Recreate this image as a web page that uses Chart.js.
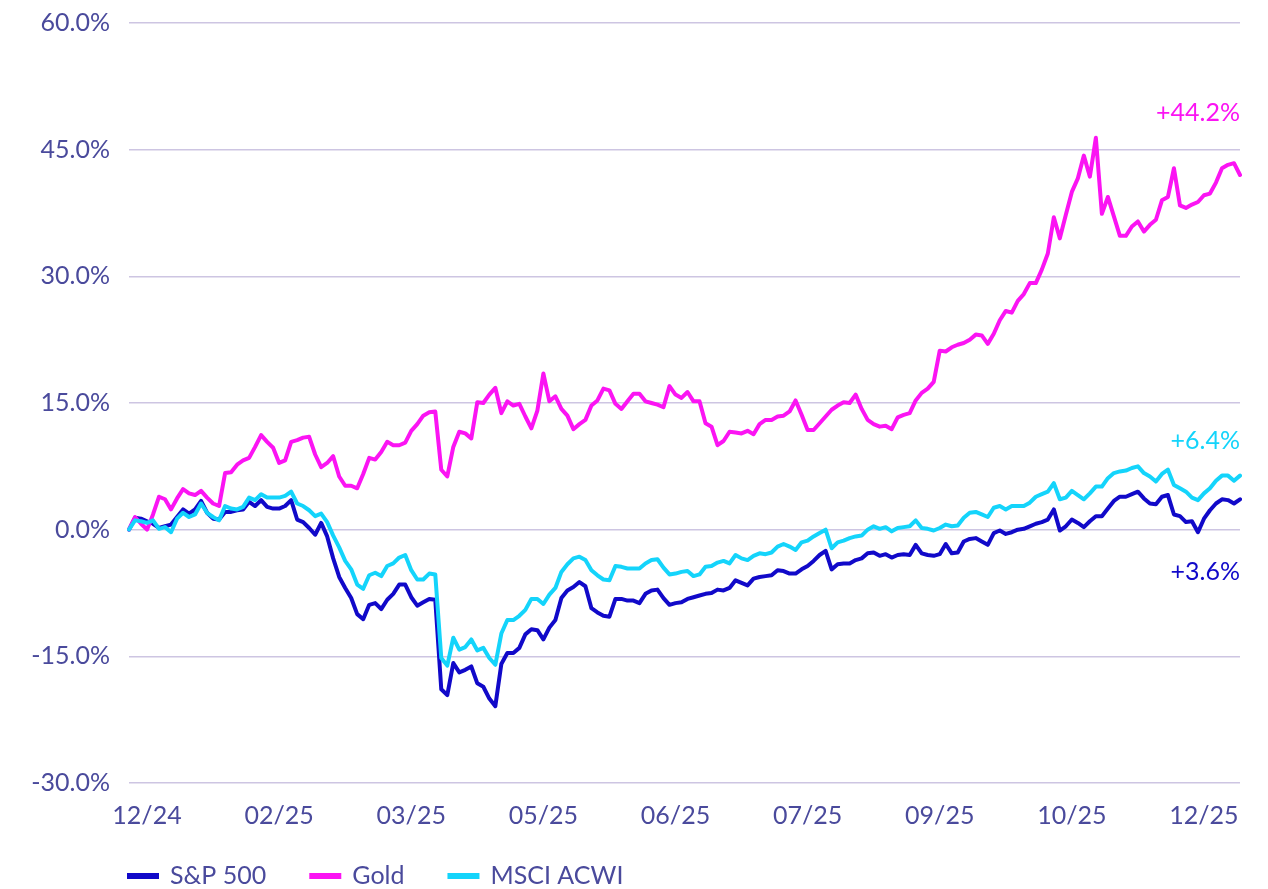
<!DOCTYPE html>
<html>
<head>
<meta charset="utf-8">
<script src="https://cdn.jsdelivr.net/npm/chart.js@4.4.1/dist/chart.umd.min.js"></script>
<style>
  html, body { margin: 0; padding: 0; background: #ffffff; }
</style>
</head>
<body>
<canvas id="lineChart" width="1268" height="889"></canvas>
<script>
// x axis: one point per ~trading-day step, only some carry a month label
var tickLabels = ["12/24", "02/25", "03/25", "05/25", "06/25", "07/25", "09/25", "10/25", "12/25"];
var tickIndex = [3, 25, 47, 69, 91, 113, 135, 157, 179];

// cumulative returns in %
var sp500 = [
  0, 1.4, 1.3, 1.0, 0.7, 0.2, 0.4, 0.6, 1.5, 2.4,
  1.9, 2.4, 3.4, 2.0, 1.3, 1.2, 2.1, 2.1, 2.3, 2.4,
  3.3, 2.8, 3.5, 2.7, 2.5, 2.5, 2.8, 3.5, 1.2, 0.9,
  0.2, -0.6, 0.8, -0.8, -3.4, -5.6, -6.9, -8.1, -10.0, -10.6,
  -8.9, -8.7, -9.4, -8.3, -7.6, -6.5, -6.5, -8.0, -9.0, -8.6,
  -8.2, -8.3, -18.9, -19.6, -15.8, -16.9, -16.6, -16.2, -18.2, -18.6,
  -20.0, -20.9, -15.9, -14.6, -14.6, -14.0, -12.4, -11.8, -11.9, -13.0,
  -11.6, -10.7, -8.1, -7.2, -6.8, -6.2, -6.7, -9.3, -9.8, -10.2,
  -10.3, -8.2, -8.2, -8.4, -8.4, -8.7, -7.6, -7.2, -7.1, -8.1,
  -8.9, -8.7, -8.6, -8.2, -8.0, -7.8, -7.6, -7.5, -7.1, -7.2,
  -6.9, -6.0, -6.3, -6.6, -5.8, -5.6, -5.5, -5.4, -4.8, -4.9,
  -5.2, -5.2, -4.7, -4.3, -3.7, -3.0, -2.5, -4.7, -4.1, -4.0,
  -4.0, -3.6, -3.4, -2.8, -2.7, -3.1, -2.9, -3.3, -3.0, -2.9,
  -3.0, -1.8, -2.8, -3.0, -3.1, -2.9, -1.7, -2.8, -2.7, -1.4,
  -1.1, -1.0, -1.4, -1.8, -0.4, -0.1, -0.5, -0.3, 0.0, 0.1,
  0.4, 0.7, 0.9, 1.2, 2.4, -0.1, 0.4, 1.2, 0.8, 0.3,
  1.0, 1.6, 1.6, 2.5, 3.4, 3.9, 3.9, 4.2, 4.5, 3.7,
  3.1, 3.0, 3.9, 4.1, 1.8, 1.6, 0.9, 1.0, -0.3, 1.3,
  2.3, 3.1, 3.6, 3.5, 3.1, 3.6
];
var gold = [
  0, 1.5, 0.7, 0, 1.8, 3.9, 3.6, 2.4, 3.7, 4.8,
  4.3, 4.1, 4.6, 3.8, 3.1, 2.8, 6.7, 6.8, 7.7, 8.2,
  8.5, 9.8, 11.2, 10.4, 9.7, 7.9, 8.2, 10.4, 10.6, 10.9,
  11.0, 8.9, 7.4, 7.9, 8.7, 6.3, 5.2, 5.2, 4.9, 6.6,
  8.5, 8.3, 9.2, 10.4, 10.0, 10.0, 10.3, 11.7, 12.5, 13.5,
  13.9, 14.0, 7.1, 6.3, 9.8, 11.6, 11.4, 10.8, 15.1, 15.0,
  16.0, 16.8, 13.8, 15.2, 14.7, 14.9, 13.4, 12.0, 14.1, 18.5,
  15.2, 15.8, 14.3, 13.5, 11.9, 12.5, 13.0, 14.7, 15.3, 16.7,
  16.5, 14.9, 14.3, 15.2, 16.1, 16.1, 15.2, 15.0, 14.8, 14.5,
  17.0, 16.0, 15.6, 16.3, 15.2, 15.2, 12.6, 12.2, 10.0, 10.5,
  11.6, 11.5, 11.4, 11.7, 11.3, 12.5, 13.0, 13.0, 13.4, 13.5,
  14.0, 15.3, 13.6, 11.8, 11.8, 12.6, 13.4, 14.2, 14.7, 15.1,
  15.0, 16.0, 14.3, 13.0, 12.5, 12.2, 12.3, 11.9, 13.3, 13.6,
  13.8, 15.3, 16.2, 16.7, 17.5, 21.2, 21.1, 21.6, 21.9, 22.1,
  22.5, 23.1, 23.0, 22.0, 23.2, 24.8, 25.9, 25.7, 27.1, 27.9,
  29.2, 29.2, 30.8, 32.7, 37.0, 34.5, 37.3, 40.0, 41.6, 44.3,
  41.8, 46.4, 37.4, 39.4, 37.1, 34.8, 34.8, 35.9, 36.5, 35.3,
  36.1, 36.7, 39.0, 39.4, 42.8, 38.4, 38.1, 38.5, 38.8, 39.6,
  39.8, 41.1, 42.8, 43.2, 43.4, 42.0
];
var msciAcwi = [
  0, 1.1, 1.0, 0.8, 1.1, 0.1, 0.3, -0.3, 1.3, 2.0,
  1.5, 1.8, 3.1, 2.0, 1.5, 1.1, 2.8, 2.5, 2.4, 2.7,
  3.8, 3.5, 4.2, 3.8, 3.8, 3.8, 4.0, 4.5, 3.1, 2.8,
  2.3, 1.6, 1.9, 0.9, -0.7, -2.1, -3.7, -4.7, -6.5, -7.0,
  -5.4, -5.1, -5.5, -4.3, -4.0, -3.3, -3.0, -4.8, -5.9, -5.9,
  -5.2, -5.3, -15.2, -16.1, -12.8, -14.2, -13.9, -13.0, -14.3, -14.0,
  -15.2, -16.0, -12.3, -10.7, -10.7, -10.2, -9.5, -8.2, -8.2, -8.8,
  -7.7, -6.9, -5.0, -4.1, -3.4, -3.2, -3.6, -4.8, -5.4, -5.9,
  -6.0, -4.3, -4.4, -4.6, -4.6, -4.6, -4.0, -3.6, -3.5, -4.5,
  -5.3, -5.2, -5.0, -4.9, -5.5, -5.3, -4.4, -4.3, -3.9, -3.7,
  -4.0, -3.0, -3.4, -3.6, -3.1, -2.8, -2.9, -2.7, -2.0, -1.7,
  -2.0, -2.4, -1.5, -1.3, -0.8, -0.4, 0.0, -2.2, -1.5, -1.3,
  -1.0, -0.8, -0.7, 0.0, 0.4, 0.1, 0.3, -0.2, 0.2, 0.3,
  0.4, 1.1, 0.2, 0.1, -0.1, 0.2, 0.6, 0.4, 0.5, 1.4,
  2.0, 2.1, 1.8, 1.5, 2.6, 2.8, 2.4, 2.8, 2.8, 2.8,
  3.2, 3.9, 4.2, 4.5, 5.5, 3.6, 3.8, 4.6, 4.1, 3.6,
  4.3, 5.1, 5.1, 6.1, 6.7, 6.9, 7.0, 7.3, 7.5, 6.7,
  6.3, 5.7, 6.6, 7.1, 5.3, 4.9, 4.5, 3.8, 3.5, 4.3,
  4.9, 5.8, 6.4, 6.4, 5.8, 6.4
];

var seriesNames = ["S&P 500", "Gold", "MSCI ACWI"];
var endLabels = ["+3.6%", "+44.2%", "+6.4%"];

var spColor = "#1109c9";
var goldColor = "#fb14f3";
var acwiColor = "#14d4fb";
var textColor = "#4a4a9c";
var gridColor = "#cdc5e2";
var fontFamily = "Lato, 'Open Sans', sans-serif";

// build category labels: empty except where a month tick sits
var categories = [];
for (var i = 0; i < sp500.length; i++) {
    var k = tickIndex.indexOf(i);
    categories[i] = k >= 0 ? tickLabels[k] : "";
}

// where the end labels sit (in axis units)
var endLabelY = [-5.0, 49.4, 10.5];

// Draw the final-value labels on the right
var endLabelPlugin = {
    id: "endLabels",
    afterDatasetsDraw: function (chart) {
        var ctx = chart.ctx;
        var yScale = chart.scales.y;
        ctx.save();
        ctx.font = "25px " + fontFamily;
        ctx.textAlign = "right";
        ctx.textBaseline = "middle";
        chart.data.datasets.forEach(function (ds, i) {
            ctx.fillStyle = ds.borderColor;
            ctx.fillText(endLabels[i], chart.chartArea.right, yScale.getPixelForValue(endLabelY[i]));
        });
        ctx.restore();
    }
};

// Simple legend at the bottom, lined up with the plot's left edge
var bottomLegendPlugin = {
    id: "bottomLegend",
    afterDraw: function (chart) {
        var ctx = chart.ctx;
        var x = 127;
        var y = chart.height - 13;
        ctx.save();
        ctx.font = "25px " + fontFamily;
        ctx.textBaseline = "middle";
        ctx.textAlign = "left";
        chart.data.datasets.forEach(function (ds) {
            ctx.fillStyle = ds.borderColor;
            ctx.fillRect(x, y - 3, 32, 6);
            x += 32 + 11;
            ctx.fillStyle = textColor;
            ctx.fillText(ds.label, x, y);
            x += ctx.measureText(ds.label).width + 43;
        });
        ctx.restore();
    }
};

var ctx = document.getElementById("lineChart").getContext("2d");
var myChart = new Chart(ctx, {
    type: "line",
    data: {
        labels: categories,
        datasets: [{
            label: seriesNames[0],
            data: sp500,
            borderColor: spColor,
            order: 2
        }, {
            label: seriesNames[1],
            data: gold,
            borderColor: goldColor,
            order: 1
        }, {
            label: seriesNames[2],
            data: msciAcwi,
            borderColor: acwiColor,
            order: 0
        }]
    },
    options: {
        responsive: false,
        animation: false,
        layout: {
            padding: { top: 23, right: 28, bottom: 40, left: 3 }
        },
        elements: {
            line: { borderWidth: 4, tension: 0, borderJoinStyle: "round", borderCapStyle: "round" },
            point: { radius: 0, hoverRadius: 0 }
        },
        plugins: {
            legend: { display: false },
            tooltip: { enabled: false }
        },
        scales: {
            x: {
                grid: { display: false, drawTicks: false },
                border: { display: false },
                ticks: {
                    autoSkip: false,
                    maxRotation: 0,
                    minRotation: 0,
                    padding: 18,
                    color: textColor,
                    font: { family: fontFamily, size: 25 },
                    callback: function (value, index) {
                        return categories[index];
                    }
                },
                afterFit: function (scale) {
                    scale.paddingLeft = 0;
                    scale.paddingRight = 0;
                }
            },
            y: {
                min: -30,
                max: 60,
                grid: { color: gridColor, lineWidth: 1.5, drawTicks: false },
                border: { display: false },
                ticks: {
                    stepSize: 15,
                    padding: 19,
                    color: textColor,
                    font: { family: fontFamily, size: 25 },
                    callback: function (value) {
                        return value.toFixed(1) + "%";
                    }
                },
                afterFit: function (scale) {
                    scale.width = 126;
                    scale.paddingTop = 0;
                    scale.paddingBottom = 0;
                }
            }
        }
    },
    plugins: [endLabelPlugin, bottomLegendPlugin]
});
</script>
</body>
</html>
